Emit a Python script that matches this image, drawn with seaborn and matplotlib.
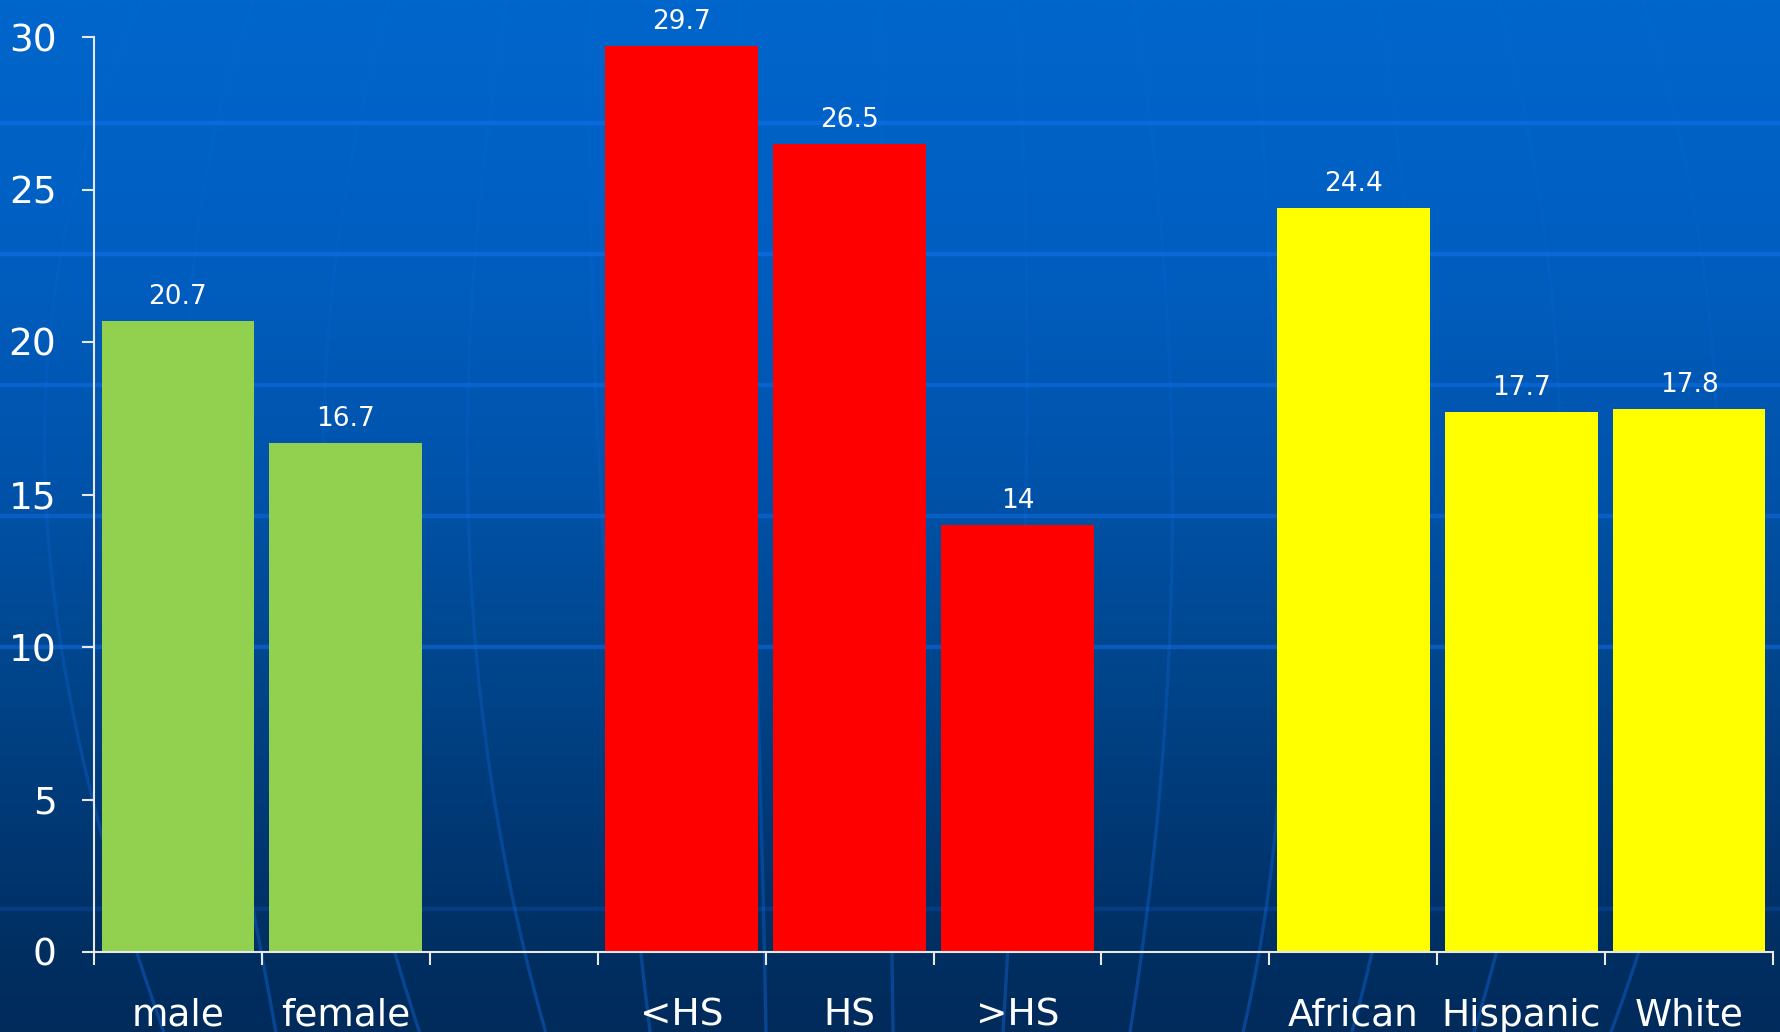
import numpy as np
import pandas as pd
import matplotlib
matplotlib.use("Agg")
import matplotlib.pyplot as plt
from matplotlib.colors import LinearSegmentedColormap, to_rgb
from matplotlib.collections import LineCollection
import seaborn as sns

# ---- data -------------------------------------------------------------
categories = ["male", "female", "<HS", "HS", ">HS", "African", "Hispanic", "White"]
groups = ["sex", "sex", "edu", "edu", "edu", "race", "race", "race"]
values = [20.7, 16.7, 29.7, 26.5, 14, 24.4, 17.7, 17.8]
slot_order = ["male", "female", " ", "<HS", "HS", ">HS", "  ", "African", "Hispanic", "White"]
group_colors = {"sex": "#92D050", "edu": "#FF0000", "race": "#FFFF00"}
y_ticks = [0, 5, 10, 15, 20, 25, 30]

df = pd.DataFrame({"category": categories, "group": groups, "value": values})

# ---- figure -----------------------------------------------------------
W, H = 1781, 1032
plt.rcParams["font.family"] = ["DejaVu Sans"]
fig = plt.figure(figsize=(W / 100, H / 100), dpi=100)

# slide-style background: vertical blue gradient with faint globe lines
bg = fig.add_axes([0, 0, 1, 1], zorder=0)
grad_cmap = LinearSegmentedColormap.from_list(
    "slide",
    [(0.0, "#0066CC"), (0.25, "#005EC0"), (0.48, "#0052A8"), (0.63, "#00478F"),
     (0.78, "#003A78"), (0.92, "#002F62"), (1.0, "#002B5B")],
)
grad = np.linspace(0, 1, 512).reshape(-1, 1)
bg.imshow(grad, cmap=grad_cmap, aspect="auto", extent=(0, W, H, 0))
bg.set_xlim(0, W)
bg.set_ylim(H, 0)
bg.axis("off")

for yy, a in [(123, 0.40), (254, 0.40), (385, 0.38), (516, 0.36), (647, 0.40), (909, 0.16)]:
    bg.plot([0, W], [yy, yy], color="#1a78ff", lw=3.2, alpha=a, solid_capstyle="butt")

meridians = [
    [(140, 0), (100, 117), (53, 300), (43, 420), (54, 600), (100, 820), (163, 1032)],
    [(255, 0), (213, 133), (190, 420), (215, 700), (254, 913), (276, 1032)],
    [(390, 0), (333, 267), (325, 430), (350, 750), (398, 987), (425, 1032)],
    [(507, 0), (478, 200), (469, 430), (482, 700), (512, 908), (547, 1032)],
    [(590, 0), (596, 400), (620, 750), (641, 954), (650, 1032)],
    [(740, 0), (752, 500), (762, 850), (766, 1032)],
    [(880, 0), (887, 560), (893, 1032)],
    [(1016, 0), (1027, 400), (1020, 700), (1003, 1032)],
    [(1134, 0), (1172, 450), (1159, 800), (1130, 1032)],
    [(1259, 0), (1280, 450), (1278, 800), (1243, 1032)],
    [(1378, 0), (1420, 450), (1400, 800), (1352, 1032)],
    [(1498, 0), (1560, 450), (1530, 800), (1474, 1032)],
    [(1642, 0), (1717, 450), (1680, 800), (1611, 1032)],
]
ys = np.linspace(0, H, 240)
line_rgb = to_rgb("#1a78ff")
seg_alpha = 0.05 + 0.30 * ((ys[:-1] + ys[1:]) / (2 * H)) ** 1.6
seg_colors = [(*line_rgb, a) for a in seg_alpha]
for pts in meridians:
    px, py = np.array(pts, dtype=float).T
    coef = np.polyfit(py, px, min(3, len(px) - 1))
    xs = np.polyval(coef, ys)
    segs = np.stack([np.column_stack([xs[:-1], ys[:-1]]),
                     np.column_stack([xs[1:], ys[1:]])], axis=1)
    bg.add_collection(LineCollection(segs, colors=seg_colors, linewidths=2.4))

# ---- bar chart --------------------------------------------------------
left, right = 94 / W, 1773 / W
bottom, top = (H - 952) / H, (H - 37) / H
ax = fig.add_axes([left, bottom, right - left, top - bottom], zorder=1)
ax.set_facecolor("none")

sns.barplot(
    data=df, x="category", y="value", hue="group", order=slot_order,
    hue_order=["sex", "edu", "race"], palette=group_colors, dodge=False,
    width=0.91, saturation=1, legend=False, errorbar=None, ax=ax,
)
for cont in ax.containers:
    ax.bar_label(cont, fmt="%g", padding=8, color="white", fontsize=19)

ax.set_ylim(0, 30)
ax.set_xlim(-0.5, len(slot_order) - 0.5)
ax.set_yticks(y_ticks)
ax.set_xticks(range(len(slot_order)), labels=slot_order)
ax.set_xticks(np.arange(-0.5, len(slot_order)), minor=True)
ax.set_xlabel("")
ax.set_ylabel("")

axis_col = "#E8E8E8"
for side in ["top", "right"]:
    ax.spines[side].set_visible(False)
for side in ["left", "bottom"]:
    ax.spines[side].set_color(axis_col)
    ax.spines[side].set_linewidth(1.5)
ax.tick_params(axis="y", length=9, width=1.5, color=axis_col, pad=18,
               labelsize=27, labelcolor="white")
ax.tick_params(axis="x", which="major", length=0, pad=33,
               labelsize=27, labelcolor="white")
ax.tick_params(axis="x", which="minor", length=9, width=1.5, color=axis_col)

fig.savefig("out.png", dpi=100)
